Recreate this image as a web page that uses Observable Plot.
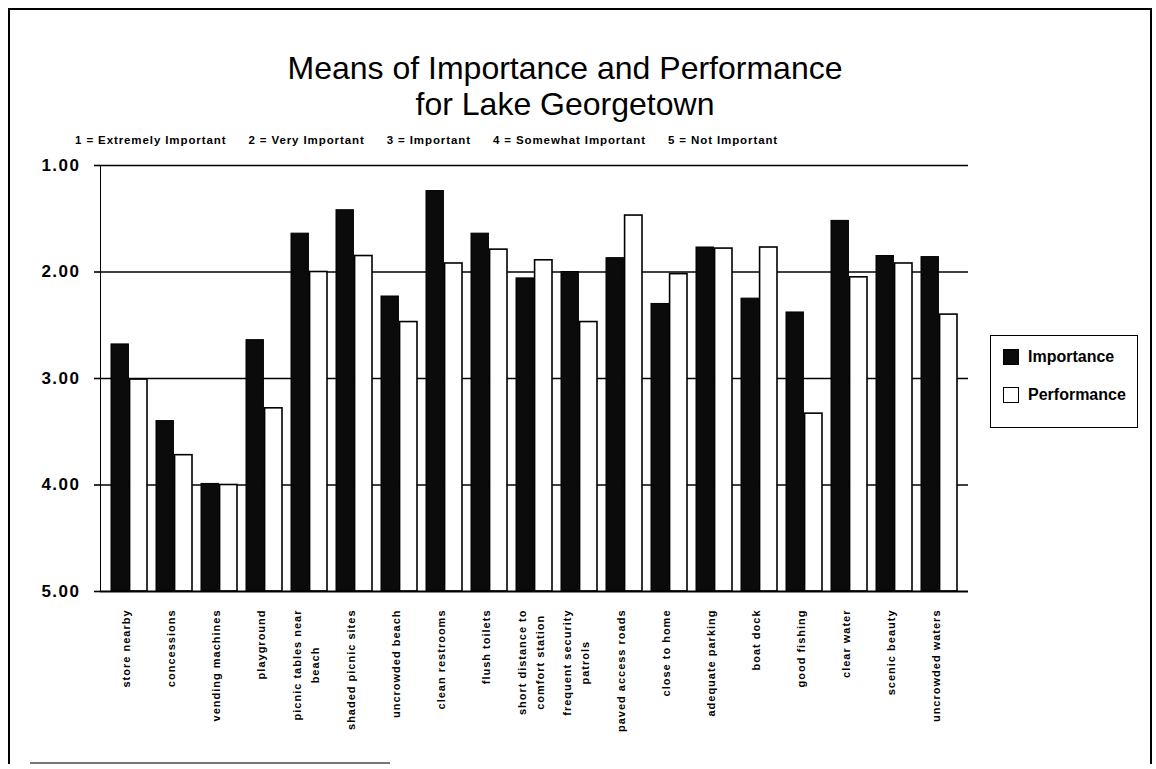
<!DOCTYPE html>
<html>
<head>
<meta charset="utf-8">
<script src="https://cdn.jsdelivr.net/npm/d3@7"></script>
<script src="https://cdn.jsdelivr.net/npm/@observablehq/plot@0.6"></script>
<style>
  body { margin: 0; background: #fff; }
  #page { position: relative; width: 1156px; height: 769px; overflow: hidden; font-family: "Liberation Sans", Arial, sans-serif; color: #000; }
  #frame { position: absolute; left: 8px; top: 8px; width: 1140px; height: 754px; border: 2px solid #000; border-bottom: none; }
  #bottomline { position: absolute; left: 30px; top: 762px; width: 360px; height: 0; border-top: 2px solid #777; }
  #title { position: absolute; left: 0; width: 1130px; top: 50px; text-align: center; font-size: 32px; }
  #title div { height: 36px; line-height: 36px; }
  #scale { position: absolute; left: 75px; top: 134px; font-size: 11.5px; font-weight: bold; line-height: 13px; white-space: pre; letter-spacing: 0.9px; }
  #scale span { margin-right: 22px; }
  #chart { position: absolute; left: 0; top: 150px; }
  #legend { position: absolute; left: 990px; top: 335px; width: 146px; height: 91px; border: 1.5px solid #000; }
  .item { position: absolute; left: 12px; height: 18px; display: flex; align-items: center; font-size: 16px; font-weight: bold; }
  .sw { width: 14px; height: 14px; border: 1.5px solid #000; margin-right: 9px; box-sizing: content-box; }
</style>
</head>
<body>
<div id="page">
  <div id="frame"></div>
  <div id="bottomline"></div>
  <div id="title"></div>
  <div id="scale"></div>
  <div id="chart"></div>
  <div id="legend"></div>
</div>
<script>
// ---- data ----
const categories = [
  "store nearby", "concessions", "vending machines", "playground",
  "picnic tables near\nbeach", "shaded picnic sites", "uncrowded beach",
  "clean restrooms", "flush toilets", "short distance to\ncomfort station",
  "frequent security\npatrols", "paved access roads", "close to home",
  "adequate parking", "boat dock", "good fishing", "clear water",
  "scenic beauty", "uncrowded waters"
];
const importance = [2.68, 3.40, 3.99, 2.64, 1.64, 1.42, 2.23, 1.24, 1.64, 2.06, 2.00, 1.87, 2.30, 1.77, 2.25, 2.38, 1.52, 1.85, 1.86];
const performance = [3.01, 3.72, 4.00, 3.28, 2.00, 1.85, 2.47, 1.92, 1.79, 1.89, 2.47, 1.47, 2.02, 1.78, 1.77, 3.33, 2.05, 1.92, 2.40];
const seriesNames = ["Importance", "Performance"];
const yTicks = [1, 2, 3, 4, 5];
const gridValues = [1, 2, 3, 4];
const scaleLabels = ["1 = Extremely Important", "2 = Very Important", "3 = Important", "4 = Somewhat Important", "5 = Not Important"];
const titleLines = ["Means of Importance and Performance", "for Lake Georgetown"];

// ---- texts ----
document.getElementById("title").innerHTML = titleLines.map(t => `<div>${t}</div>`).join("");
document.getElementById("scale").innerHTML = scaleLabels.map(s => `<span>${s}</span>`).join("");
const seriesFill = {Importance: "#0b0b0b", Performance: "#ffffff"};
document.getElementById("legend").innerHTML = seriesNames.map((s, i) =>
  `<div class="item" style="top:${12 + i * 38}px"><div class="sw" style="background:${seriesFill[s]}"></div>${s}</div>`
).join("");

// ---- layout ----
const W = 990, H = 600, mL = 100, mR = 22, mT = 15, mB = 159;
const pInner = 0.19, pOuter = 0.05;
const n = categories.length;
const step = (W - mL - mR) / (n - pInner + 2 * pOuter);
const half = step * (1 - pInner) / 2;

const rows = categories.map((c, i) => ({category: c, importance: importance[i], performance: performance[i]}));

const canvas = document.createElement("canvas");
const ctx = canvas.getContext("2d");
ctx.font = "bold 11px 'Liberation Sans'";
const LS = 1;
const measure = s => ctx.measureText(s).width + s.length * LS;

const labelMarks = categories.map(c => {
  const lines = c.split("\n");
  const w = Math.max(...lines.map(measure));
  return Plot.text([c], {
    x: d => d, y: () => 5, text: d => d,
    rotate: -90, textAnchor: "middle", lineAnchor: "middle", lineHeight: 1.6,
    dy: 18 + w / 2, dx: -5, fontSize: 11, fontWeight: "bold", fill: "#000"
  });
});

const plot = Plot.plot({
  width: W, height: H,
  marginLeft: mL, marginRight: mR, marginTop: mT, marginBottom: mB,
  style: {fontFamily: "'Liberation Sans', Arial, sans-serif", fontSize: "17px", fontWeight: "bold", color: "#000", background: "transparent"},
  x: {type: "band", domain: categories, paddingInner: pInner, paddingOuter: pOuter, axis: null},
  y: {domain: [5, 1], ticks: yTicks, tickFormat: d3.format(".2f"), tickSize: 6, tickPadding: 14, label: null, line: true},
  marks: [
    Plot.ruleY(gridValues, {stroke: "#000", strokeWidth: 1.6}),
    Plot.barY(rows, {x: "category", y1: () => 5, y2: "importance", fill: seriesFill.Importance, stroke: "#000", strokeWidth: 1, insetRight: half}),
    Plot.barY(rows, {x: "category", y1: () => 5, y2: "performance", fill: seriesFill.Performance, stroke: "#000", strokeWidth: 1.6, insetLeft: half}),
    Plot.ruleY([5], {stroke: "#000", strokeWidth: 2}),
    ...labelMarks
  ]
});
plot.querySelectorAll('g[aria-label="text"] text').forEach(t => t.style.letterSpacing = LS + "px");
plot.querySelectorAll('g[aria-label="y-axis tick label"] text, g[aria-label="y-axis"] text').forEach(t => t.style.letterSpacing = "1.5px");
plot.querySelectorAll('g[aria-label="y-axis tick"] path, g[aria-label="y-axis"] path').forEach(p => p.setAttribute("stroke-width", "1.6"));
document.getElementById("chart").appendChild(plot);
</script>
</body>
</html>
